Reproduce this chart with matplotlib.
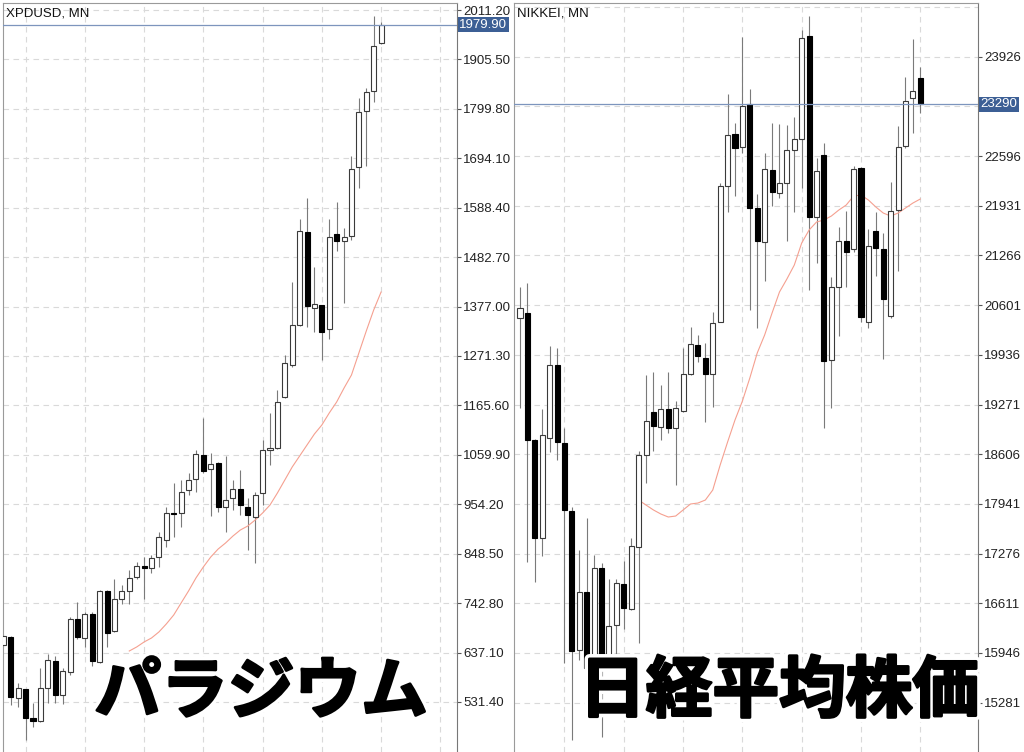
import matplotlib
matplotlib.use("Agg")
import matplotlib.pyplot as plt
import matplotlib.patheffects as pe

plt.rcParams['font.family'] = ['Liberation Sans', 'DejaVu Sans']

# XPDUSD monthly candles (open, high, low, close)
xpd_open = [652.6, 671.0, 539.3, 558.5, 496.5, 490.7, 561.9, 619.7, 546.3, 596.2,
            708.2, 667.6, 718.9, 617.5, 768.7, 683.8, 751.6, 768.7, 798.0, 822.8,
            817.3, 842.1, 877.8, 936.2, 936.2, 984.7, 1007.6, 1059.6, 1029.0, 1041.8,
            949.0, 967.0, 986.9, 949.0, 927.6, 977.7, 1070.3, 1073.9, 1184.2, 1252.0,
            1337.6, 1537.1, 1373.3, 1380.3, 1328.4, 1531.5, 1517.9, 1527.9, 1676.1, 1795.9,
            1838.6, 1941.3]
xpd_high = [676.0, 673.0, 571.4, 560.0, 528.6, 603.4, 633.4, 629.7, 603.4, 713.8,
            744.6, 724.5, 724.5, 770.9, 770.9, 794.4, 781.6, 813.6, 830.1, 842.1,
            845.7, 895.6, 949.0, 999.0, 1006.1, 1020.4, 1070.3, 1138.0, 1064.5, 1045.0,
            1057.4, 1006.1, 1027.5, 967.0, 981.1, 1091.6, 1148.7, 1198.6, 1273.4, 1430.2,
            1564.3, 1608.5, 1462.2, 1381.0, 1564.3, 1601.3, 1545.7, 1699.6, 1822.4, 1843.8,
            1998.4, 1986.2]
xpd_low = [650.0, 524.9, 521.3, 450.1, 478.6, 489.0, 529.9, 529.9, 526.4, 589.1,
           665.5, 649.6, 609.0, 615.4, 649.6, 681.7, 740.3, 740.3, 793.8, 751.0,
           807.9, 819.4, 863.5, 884.8, 906.2, 974.0, 981.1, 1020.4, 929.1, 938.3,
           895.6, 941.9, 931.3, 856.4, 829.3, 952.6, 1038.2, 1072.0, 1181.5, 1248.4,
           1335.0, 1333.9, 1323.2, 1262.7, 1307.0, 1496.5, 1384.0, 1520.0, 1629.9, 1678.2,
           1815.1, 1938.5]
xpd_close = [673.1, 542.7, 560.7, 497.8, 491.4, 561.9, 621.2, 546.3, 597.7, 708.2,
             671.0, 718.9, 619.7, 768.7, 678.3, 751.0, 768.7, 795.9, 822.8, 818.6,
             838.7, 884.8, 934.9, 933.0, 981.1, 1006.1, 1061.1, 1025.4, 1039.7, 947.7,
             963.3, 986.2, 952.6, 931.3, 974.0, 1070.3, 1075.2, 1173.5, 1255.7, 1337.6,
             1538.6, 1378.2, 1381.8, 1322.0, 1526.4, 1517.9, 1525.1, 1670.5, 1793.7, 1836.5,
             1934.9, 1979.9]
xpd_ma_start = 17
xpd_ma = [640.4, 649.0, 659.7, 668.2, 681.1, 698.2, 717.4, 743.1, 768.7, 796.5,
          820.1, 841.4, 858.5, 871.4, 886.3, 899.2, 907.7, 920.6, 935.5, 952.6,
          978.3, 1006.1, 1033.9, 1057.4, 1081.0, 1104.5, 1123.7, 1149.4, 1172.9, 1202.8,
          1230.6, 1277.7, 1324.7, 1369.6, 1408.1]
xpd_ticks = [2011.20, 1905.50, 1799.80, 1694.10, 1588.40, 1482.70, 1377.00, 1271.30,
             1165.60, 1059.90, 954.20, 848.50, 742.80, 637.10, 531.40]

# NIKKEI monthly candles
nk_open = [20425, 20492, 18796, 17481, 18819, 19800, 18760, 17850, 15986, 16766,
           15700, 17079, 15900, 16320, 16869, 16531, 17368, 18596, 19167, 18974,
           19207, 18953, 19188, 19680, 20068, 19898, 19680, 20380, 22196, 22888,
           22714, 23289, 21897, 21446, 22410, 22106, 22240, 22677, 22821, 24203,
           21777, 22610, 19867, 20848, 21460, 21348, 22432, 20380, 21597, 21356,
           20456, 21874, 22731, 23369, 23637]
nk_high = [20848, 20901, 18806, 19207, 20058, 20024, 18953, 17904, 17324, 17756,
           17257, 17150, 16932, 16932, 17177, 17489, 18653, 19666, 19702, 19532,
           19710, 19318, 20024, 20313, 20202, 20098, 20505, 22232, 23427, 23035,
           24186, 23490, 22085, 22637, 23043, 23021, 23012, 23123, 24283, 24471,
           22574, 22775, 20974, 21643, 21865, 22467, 22454, 21616, 21852, 21563,
           22253, 22999, 23658, 24163, 23792]
nk_low = [19220, 17168, 16900, 17244, 18640, 18529, 15808, 14781, 15852, 15500,
          15400, 14822, 15800, 15850, 16263, 16521, 16084, 18217, 18653, 18796,
          18886, 18194, 19175, 19666, 19844, 19041, 19234, 20380, 21844, 22066,
          22641, 20536, 20291, 20928, 21928, 22031, 21464, 21844, 22165, 20804,
          21161, 18953, 19220, 20188, 20848, 21312, 20380, 20291, 20991, 19876,
          20425, 21062, 22700, 22909, 23168]
nk_close = [20559, 18796, 17481, 18859, 19800, 18766, 17860, 15977, 16766, 15750,
            17079, 15750, 16307, 16887, 16544, 17382, 18596, 19051, 18984, 19211,
            18953, 19220, 19675, 20081, 19921, 19680, 20358, 22200, 22878, 22700,
            23266, 21901, 21460, 22423, 22119, 22240, 22677, 22825, 24172, 21785,
            22396, 19854, 20848, 21460, 21316, 22419, 20446, 21393, 21362, 20683,
            21865, 22714, 23333, 23467, 23290]
nk_ma_start = 16
nk_ma = [17993, 17926, 17860, 17806, 17766, 17779, 17860, 17940, 17953, 17993,
         18127, 18462, 18769, 19064, 19318, 19626, 19961, 20202, 20496, 20777,
         20951, 21138, 21433, 21607, 21714, 21741, 21794, 21874, 21941, 22062,
         22075, 22008, 21915, 21834, 21794, 21834, 21901, 21968, 22022]
nk_ticks = [23926, 22596, 21931, 21266, 20601, 19936, 19271, 18606,
            17941, 17276, 16611, 15946, 15281]
# grid levels with no label (top edge / under the price box)
nk_hidden = [24591, 23261]


def candles(ax, o, h, l, c):
    x = list(range(len(o)))
    ax.vlines(x, l, h, color='#7a7a7a', lw=0.8, zorder=2)
    for i in x:
        up = c[i] >= o[i]
        bottom = min(o[i], c[i])
        height = max(abs(c[i] - o[i]), 1e-6)
        ax.bar(i, height, bottom=bottom, width=0.68,
               color='white' if up else 'black',
               edgecolor='#3a3a3a' if up else 'black', linewidth=0.8, zorder=3)


def style(ax, ticks, labels, ylim, xlim, grid_x, title, last, last_label):
    ax.set_ylim(*ylim)
    ax.set_xlim(*xlim)
    ax.set_yticks(ticks)
    ax.set_yticklabels(labels)
    ax.yaxis.tick_right()
    ax.set_xticks(grid_x)
    ax.set_xticklabels([])
    ax.tick_params(axis='x', length=0)
    ax.tick_params(axis='y', length=3, width=0.8, pad=1.5, labelsize=9.5,
                   color='#555555', labelcolor='#222222')
    ax.grid(True, color='#d9d9d9', linestyle=(0, (5, 4)), lw=0.8)
    ax.set_axisbelow(True)
    for side in ['left', 'top']:
        ax.spines[side].set_color('#9a9a9a')
    ax.spines['right'].set_color('#777777')
    ax.spines['bottom'].set_visible(False)
    ax.axhline(last, color='#7d95bd', lw=0.9, zorder=4)
    ax.annotate(last_label, xy=(1, last), xycoords=('axes fraction', 'data'),
                xytext=(1.5, 0), textcoords='offset points', ha='left', va='center',
                fontsize=9.5, color='white', annotation_clip=False,
                bbox=dict(boxstyle='square,pad=0.12', fc='#3c5f95', ec='none'))
    ax.annotate(title, xy=(0, 1), xycoords='axes fraction', xytext=(2, -3),
                textcoords='offset points', ha='left', va='top', fontsize=9.5,
                color='#111111')


fig = plt.figure(figsize=(10.24, 7.52), dpi=100)

ax1 = fig.add_axes([3 / 1024, 0, 454 / 1024, 749 / 752])
candles(ax1, xpd_open, xpd_high, xpd_low, xpd_close)
ax1.plot(range(xpd_ma_start, xpd_ma_start + len(xpd_ma)), xpd_ma,
         color='#f5a090', lw=0.8, zorder=2.5)
style(ax1, xpd_ticks, ['%.2f' % t for t in xpd_ticks], (424.4, 2026.2),
      (-0.05, 61.25), list(range(3, 62, 8)), 'XPDUSD, MN',
      xpd_close[-1], '%.2f' % xpd_close[-1])

ax2 = fig.add_axes([514 / 1024, 0, 464 / 1024, 749 / 752])
candles(ax2, nk_open, nk_high, nk_low, nk_close)
ax2.plot(range(nk_ma_start, nk_ma_start + len(nk_ma)), nk_ma,
         color='#f5a090', lw=0.8, zorder=2.5)
for lvl in nk_hidden:
    ax2.axhline(lvl, color='#d9d9d9', linestyle=(0, (5, 4)), lw=0.8, zorder=0.5)
style(ax2, nk_ticks, ['%d' % t for t in nk_ticks],
      (14621, 24645), (-0.81, 61.78), list(range(6, 62, 8)), 'NIKKEI, MN',
      nk_close[-1], '%d' % nk_close[-1])

outline = [pe.Stroke(linewidth=7, foreground='white'),
           pe.Stroke(linewidth=2.0, foreground='black'), pe.Normal()]
fig.text(261 / 1024, 1 - 693 / 752, 'パラジウム', ha='center', va='center',
         fontsize=48, fontweight='bold', family=['Noto Sans CJK JP'],
         color='black', path_effects=outline)
fig.text(779 / 1024, 1 - 692 / 752, '日経平均株価', ha='center', va='center',
         fontsize=48, fontweight='bold', family=['Noto Sans CJK JP'],
         color='black', path_effects=outline)

plt.savefig('out.png', dpi=100)
plt.close()
